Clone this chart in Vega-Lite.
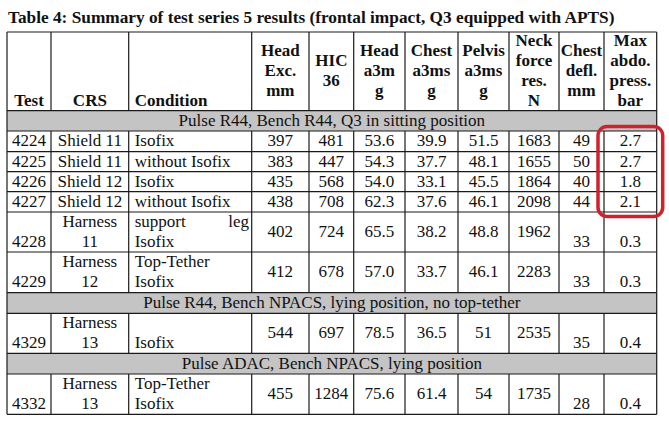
{
  "$schema": "https://vega.github.io/schema/vega-lite/v6.json",
  "width": 669,
  "height": 393,
  "autosize": {"type": "none"},
  "padding": {"left": 0, "top": 30, "right": 0, "bottom": 0},
  "background": "white",
  "config": {"view": {"stroke": null}, "text": {"font": "Liberation Serif", "color": "#111"}},
  "title": {
    "text": "Table 4: Summary of test series 5 results (frontal impact, Q3 equipped with APTS)",
    "anchor": "start",
    "frame": "group",
    "font": "Liberation Serif",
    "fontSize": 17.3,
    "fontWeight": "bold",
    "color": "#111",
    "baseline": "alphabetic",
    "offset": 10,
    "dx": 8,
    "dy": 20
  },
  "datasets": {
    "sections": [
      {"r0": 1, "r1": 2, "span": "all", "label": "Pulse R44, Bench R44, Q3 in sitting position"},
      {"r0": 8, "r1": 9, "span": "all", "label": "Pulse R44, Bench NPACS, lying position, no top-tether"},
      {"r0": 10, "r1": 11, "span": "all", "label": "Pulse ADAC, Bench NPACS, lying position"}
    ],
    "hlines": [{"r": 0}, {"r": 1}, {"r": 2}, {"r": 3}, {"r": 4}, {"r": 5}, {"r": 6}, {"r": 7}, {"r": 8}, {"r": 9}, {"r": 10}, {"r": 11}, {"r": 12}],
    "vlines": [
      {"c": 0, "r0": 0, "r1": 12}, {"c": 11, "r0": 0, "r1": 12},
      {"c": 1, "r0": 0, "r1": 1}, {"c": 1, "r0": 2, "r1": 8}, {"c": 1, "r0": 9, "r1": 10}, {"c": 1, "r0": 11, "r1": 12},
      {"c": 2, "r0": 0, "r1": 1}, {"c": 2, "r0": 2, "r1": 8}, {"c": 2, "r0": 9, "r1": 10}, {"c": 2, "r0": 11, "r1": 12},
      {"c": 3, "r0": 0, "r1": 1}, {"c": 3, "r0": 2, "r1": 8}, {"c": 3, "r0": 9, "r1": 10}, {"c": 3, "r0": 11, "r1": 12},
      {"c": 4, "r0": 0, "r1": 1}, {"c": 4, "r0": 2, "r1": 8}, {"c": 4, "r0": 9, "r1": 10}, {"c": 4, "r0": 11, "r1": 12},
      {"c": 5, "r0": 0, "r1": 1}, {"c": 5, "r0": 2, "r1": 8}, {"c": 5, "r0": 9, "r1": 10}, {"c": 5, "r0": 11, "r1": 12},
      {"c": 6, "r0": 0, "r1": 1}, {"c": 6, "r0": 2, "r1": 8}, {"c": 6, "r0": 9, "r1": 10}, {"c": 6, "r0": 11, "r1": 12},
      {"c": 7, "r0": 0, "r1": 1}, {"c": 7, "r0": 2, "r1": 8}, {"c": 7, "r0": 9, "r1": 10}, {"c": 7, "r0": 11, "r1": 12},
      {"c": 8, "r0": 0, "r1": 1}, {"c": 8, "r0": 2, "r1": 8}, {"c": 8, "r0": 9, "r1": 10}, {"c": 8, "r0": 11, "r1": 12},
      {"c": 9, "r0": 0, "r1": 1}, {"c": 9, "r0": 2, "r1": 8}, {"c": 9, "r0": 9, "r1": 10}, {"c": 9, "r0": 11, "r1": 12},
      {"c": 10, "r0": 0, "r1": 1}, {"c": 10, "r0": 2, "r1": 8}, {"c": 10, "r0": 9, "r1": 10}, {"c": 10, "r0": 11, "r1": 12}
    ],
    "highlight": [{"c0": 10, "c1": 11, "r0": 2, "r1": 6}],
    "cells": [
      {"row": 0, "col": 0, "text": "Test"},
      {"row": 0, "col": 1, "text": "CRS"},
      {"row": 0, "col": 2, "text": "Condition"},
      {"row": 0, "col": 3, "text": ["Head", "Exc.", "mm"]},
      {"row": 0, "col": 4, "text": ["HIC", "36"]},
      {"row": 0, "col": 5, "text": ["Head", "a3m", "g"]},
      {"row": 0, "col": 6, "text": ["Chest", "a3ms", "g"]},
      {"row": 0, "col": 7, "text": ["Pelvis", "a3ms", "g"]},
      {"row": 0, "col": 8, "text": ["Neck", "force", "res.", "N"]},
      {"row": 0, "col": 9, "text": ["Chest", "defl.", "mm"]},
      {"row": 0, "col": 10, "text": ["Max", "abdo.", "press.", "bar"]},

      {"row": 2, "col": 0, "text": "4224"}, {"row": 2, "col": 1, "text": "Shield 11"}, {"row": 2, "col": 2, "text": "Isofix"},
      {"row": 2, "col": 3, "text": "397"}, {"row": 2, "col": 4, "text": "481"}, {"row": 2, "col": 5, "text": "53.6"},
      {"row": 2, "col": 6, "text": "39.9"}, {"row": 2, "col": 7, "text": "51.5"}, {"row": 2, "col": 8, "text": "1683"},
      {"row": 2, "col": 9, "text": "49"}, {"row": 2, "col": 10, "text": "2.7"},

      {"row": 3, "col": 0, "text": "4225"}, {"row": 3, "col": 1, "text": "Shield 11"}, {"row": 3, "col": 2, "text": "without Isofix"},
      {"row": 3, "col": 3, "text": "383"}, {"row": 3, "col": 4, "text": "447"}, {"row": 3, "col": 5, "text": "54.3"},
      {"row": 3, "col": 6, "text": "37.7"}, {"row": 3, "col": 7, "text": "48.1"}, {"row": 3, "col": 8, "text": "1655"},
      {"row": 3, "col": 9, "text": "50"}, {"row": 3, "col": 10, "text": "2.7"},

      {"row": 4, "col": 0, "text": "4226"}, {"row": 4, "col": 1, "text": "Shield 12"}, {"row": 4, "col": 2, "text": "Isofix"},
      {"row": 4, "col": 3, "text": "435"}, {"row": 4, "col": 4, "text": "568"}, {"row": 4, "col": 5, "text": "54.0"},
      {"row": 4, "col": 6, "text": "33.1"}, {"row": 4, "col": 7, "text": "45.5"}, {"row": 4, "col": 8, "text": "1864"},
      {"row": 4, "col": 9, "text": "40"}, {"row": 4, "col": 10, "text": "1.8"},

      {"row": 5, "col": 0, "text": "4227"}, {"row": 5, "col": 1, "text": "Shield 12"}, {"row": 5, "col": 2, "text": "without Isofix"},
      {"row": 5, "col": 3, "text": "438"}, {"row": 5, "col": 4, "text": "708"}, {"row": 5, "col": 5, "text": "62.3"},
      {"row": 5, "col": 6, "text": "37.6"}, {"row": 5, "col": 7, "text": "46.1"}, {"row": 5, "col": 8, "text": "2098"},
      {"row": 5, "col": 9, "text": "44"}, {"row": 5, "col": 10, "text": "2.1"},

      {"row": 6, "col": 0, "text": ["\u00a0", "4228"]}, {"row": 6, "col": 1, "text": ["Harness", "11"]},
      {"row": 6, "col": 2, "text": ["support\u00a0\u00a0\u00a0\u00a0\u00a0\u00a0\u00a0\u00a0\u00a0\u00a0leg", "Isofix"]},
      {"row": 6, "col": 3, "text": "402"}, {"row": 6, "col": 4, "text": "724"}, {"row": 6, "col": 5, "text": "65.5"},
      {"row": 6, "col": 6, "text": "38.2"}, {"row": 6, "col": 7, "text": "48.8"}, {"row": 6, "col": 8, "text": "1962"},
      {"row": 6, "col": 9, "text": ["\u00a0", "33"]}, {"row": 6, "col": 10, "text": ["\u00a0", "0.3"]},

      {"row": 7, "col": 0, "text": ["\u00a0", "4229"]}, {"row": 7, "col": 1, "text": ["Harness", "12"]},
      {"row": 7, "col": 2, "text": ["Top-Tether", "Isofix"]},
      {"row": 7, "col": 3, "text": "412"}, {"row": 7, "col": 4, "text": "678"}, {"row": 7, "col": 5, "text": "57.0"},
      {"row": 7, "col": 6, "text": "33.7"}, {"row": 7, "col": 7, "text": "46.1"}, {"row": 7, "col": 8, "text": "2283"},
      {"row": 7, "col": 9, "text": ["\u00a0", "33"]}, {"row": 7, "col": 10, "text": ["\u00a0", "0.3"]},

      {"row": 9, "col": 0, "text": ["\u00a0", "4329"]}, {"row": 9, "col": 1, "text": ["Harness", "13"]},
      {"row": 9, "col": 2, "text": ["\u00a0", "Isofix"]},
      {"row": 9, "col": 3, "text": "544"}, {"row": 9, "col": 4, "text": "697"}, {"row": 9, "col": 5, "text": "78.5"},
      {"row": 9, "col": 6, "text": "36.5"}, {"row": 9, "col": 7, "text": "51"}, {"row": 9, "col": 8, "text": "2535"},
      {"row": 9, "col": 9, "text": ["\u00a0", "35"]}, {"row": 9, "col": 10, "text": ["\u00a0", "0.4"]},

      {"row": 11, "col": 0, "text": ["\u00a0", "4332"]}, {"row": 11, "col": 1, "text": ["Harness", "13"]},
      {"row": 11, "col": 2, "text": ["Top-Tether", "Isofix"]},
      {"row": 11, "col": 3, "text": "455"}, {"row": 11, "col": 4, "text": "1284"}, {"row": 11, "col": 5, "text": "75.6"},
      {"row": 11, "col": 6, "text": "61.4"}, {"row": 11, "col": 7, "text": "54"}, {"row": 11, "col": 8, "text": "1735"},
      {"row": 11, "col": 9, "text": ["\u00a0", "28"]}, {"row": 11, "col": 10, "text": ["\u00a0", "0.4"]}
    ]
  },
  "layer": [
    {
      "data": {"name": "sections"},
      "mark": {"type": "rect", "fill": "#c4c4c4"},
      "encoding": {
        "x": {"datum": 0, "type": "quantitative", "axis": null, "scale": {"domain": [0,1,2,3,4,5,6,7,8,9,10,11], "range": [7,51,128.7,251.7,309,353.7,405,458,509,559,604,656.7]}},
        "x2": {"datum": 11},
        "y": {"field": "r0", "type": "quantitative", "axis": null, "scale": {"domain": [0,1,2,3,4,5,6,7,8,9,10,11,12], "range": [2,80.7,101,121.7,141.7,161.7,182,222,262.7,283.3,323.3,344,384.3]}},
        "y2": {"field": "r1"}
      }
    },
    {
      "data": {"name": "hlines"},
      "mark": {"type": "rule", "color": "#1a1a1a", "strokeWidth": 1.2},
      "encoding": {
        "x": {"datum": 0, "type": "quantitative", "axis": null, "scale": {"domain": [0,1,2,3,4,5,6,7,8,9,10,11], "range": [7,51,128.7,251.7,309,353.7,405,458,509,559,604,656.7]}},
        "x2": {"datum": 11},
        "y": {"field": "r", "type": "quantitative", "axis": null, "scale": {"domain": [0,1,2,3,4,5,6,7,8,9,10,11,12], "range": [2,80.7,101,121.7,141.7,161.7,182,222,262.7,283.3,323.3,344,384.3]}}
      }
    },
    {
      "data": {"name": "vlines"},
      "mark": {"type": "rule", "color": "#1a1a1a", "strokeWidth": 1.2},
      "encoding": {
        "x": {"field": "c", "type": "quantitative", "axis": null, "scale": {"domain": [0,1,2,3,4,5,6,7,8,9,10,11], "range": [7,51,128.7,251.7,309,353.7,405,458,509,559,604,656.7]}},
        "y": {"field": "r0", "type": "quantitative", "axis": null, "scale": {"domain": [0,1,2,3,4,5,6,7,8,9,10,11,12], "range": [2,80.7,101,121.7,141.7,161.7,182,222,262.7,283.3,323.3,344,384.3]}},
        "y2": {"field": "r1"}
      }
    },
    {
      "data": {"name": "highlight"},
      "mark": {"type": "rect", "filled": false, "color": "#d0222b", "strokeWidth": 3.5, "cornerRadius": 9, "xOffset": -6, "x2Offset": 6, "yOffset": -4.5, "y2Offset": 4.5},
      "encoding": {
        "x": {"field": "c0", "type": "quantitative", "axis": null, "scale": {"domain": [0,1,2,3,4,5,6,7,8,9,10,11], "range": [7,51,128.7,251.7,309,353.7,405,458,509,559,604,656.7]}},
        "x2": {"field": "c1"},
        "y": {"field": "r0", "type": "quantitative", "axis": null, "scale": {"domain": [0,1,2,3,4,5,6,7,8,9,10,11,12], "range": [2,80.7,101,121.7,141.7,161.7,182,222,262.7,283.3,323.3,344,384.3]}},
        "y2": {"field": "r1"}
      }
    },
    {
      "data": {"name": "sections"},
      "mark": {"type": "text", "fontSize": 17, "baseline": "middle", "align": "center"},
      "encoding": {
        "x": {"field": "span", "type": "nominal", "axis": null, "scale": {"domain": ["all"], "range": [7, 656.7], "paddingInner": 0, "paddingOuter": 0}},
        "y": {"field": "r0", "type": "quantitative", "axis": null, "scale": {"domain": [0,1,2,3,4,5,6,7,8,9,10,11], "range": [41.35,90.85,111.35,131.7,151.7,171.85,202,242.35,273,303.3,333.65,364.15]}},
        "text": {"field": "label", "type": "nominal"}
      }
    },
    {
      "data": {"name": "cells"},
      "transform": [{"filter": "datum.row == 0 && datum.col != 2 && !isArray(datum.text)"}],
      "mark": {"type": "text", "fontSize": 17, "fontWeight": "bold", "lineHeight": 20, "baseline": "middle", "align": "center", "dy": 30},
      "encoding": {
        "x": {"field": "col", "type": "quantitative", "axis": null, "scale": {"domain": [0,1,2,3,4,5,6,7,8,9,10], "range": [29,89.85,134.7,280.35,331.35,379.35,431.5,483.5,534,581.5,630.35]}},
        "y": {"field": "row", "type": "quantitative", "axis": null, "scale": {"domain": [0,1,2,3,4,5,6,7,8,9,10,11], "range": [41.35,90.85,111.35,131.7,151.7,171.85,202,242.35,273,303.3,333.65,364.15]}},
        "text": {"field": "text", "type": "nominal"}
      }
    },
    {
      "data": {"name": "cells"},
      "transform": [{"filter": "datum.row == 0 && datum.col == 2"}],
      "mark": {"type": "text", "fontSize": 17, "fontWeight": "bold", "lineHeight": 20, "baseline": "middle", "align": "left", "dy": 30},
      "encoding": {
        "x": {"field": "col", "type": "quantitative", "axis": null, "scale": {"domain": [0,1,2,3,4,5,6,7,8,9,10], "range": [29,89.85,134.7,280.35,331.35,379.35,431.5,483.5,534,581.5,630.35]}},
        "y": {"field": "row", "type": "quantitative", "axis": null, "scale": {"domain": [0,1,2,3,4,5,6,7,8,9,10,11], "range": [41.35,90.85,111.35,131.7,151.7,171.85,202,242.35,273,303.3,333.65,364.15]}},
        "text": {"field": "text", "type": "nominal"}
      }
    },
    {
      "data": {"name": "cells"},
      "transform": [{"filter": "datum.row == 0 && isArray(datum.text) && length(datum.text) == 2"}],
      "mark": {"type": "text", "fontSize": 17, "fontWeight": "bold", "lineHeight": 20, "baseline": "middle", "align": "center", "dy": -10},
      "encoding": {
        "x": {"field": "col", "type": "quantitative", "axis": null, "scale": {"domain": [0,1,2,3,4,5,6,7,8,9,10], "range": [29,89.85,134.7,280.35,331.35,379.35,431.5,483.5,534,581.5,630.35]}},
        "y": {"field": "row", "type": "quantitative", "axis": null, "scale": {"domain": [0,1,2,3,4,5,6,7,8,9,10,11], "range": [41.35,90.85,111.35,131.7,151.7,171.85,202,242.35,273,303.3,333.65,364.15]}},
        "text": {"field": "text", "type": "nominal"}
      }
    },
    {
      "data": {"name": "cells"},
      "transform": [{"filter": "datum.row == 0 && isArray(datum.text) && length(datum.text) == 3"}],
      "mark": {"type": "text", "fontSize": 17, "fontWeight": "bold", "lineHeight": 20, "baseline": "middle", "align": "center", "dy": -20},
      "encoding": {
        "x": {"field": "col", "type": "quantitative", "axis": null, "scale": {"domain": [0,1,2,3,4,5,6,7,8,9,10], "range": [29,89.85,134.7,280.35,331.35,379.35,431.5,483.5,534,581.5,630.35]}},
        "y": {"field": "row", "type": "quantitative", "axis": null, "scale": {"domain": [0,1,2,3,4,5,6,7,8,9,10,11], "range": [41.35,90.85,111.35,131.7,151.7,171.85,202,242.35,273,303.3,333.65,364.15]}},
        "text": {"field": "text", "type": "nominal"}
      }
    },
    {
      "data": {"name": "cells"},
      "transform": [{"filter": "datum.row == 0 && isArray(datum.text) && length(datum.text) == 4"}],
      "mark": {"type": "text", "fontSize": 17, "fontWeight": "bold", "lineHeight": 20, "baseline": "middle", "align": "center", "dy": -30},
      "encoding": {
        "x": {"field": "col", "type": "quantitative", "axis": null, "scale": {"domain": [0,1,2,3,4,5,6,7,8,9,10], "range": [29,89.85,134.7,280.35,331.35,379.35,431.5,483.5,534,581.5,630.35]}},
        "y": {"field": "row", "type": "quantitative", "axis": null, "scale": {"domain": [0,1,2,3,4,5,6,7,8,9,10,11], "range": [41.35,90.85,111.35,131.7,151.7,171.85,202,242.35,273,303.3,333.65,364.15]}},
        "text": {"field": "text", "type": "nominal"}
      }
    },
    {
      "data": {"name": "cells"},
      "transform": [{"filter": "datum.row > 0 && datum.col != 2 && !isArray(datum.text)"}],
      "mark": {"type": "text", "fontSize": 17, "lineHeight": 20, "baseline": "middle", "align": "center"},
      "encoding": {
        "x": {"field": "col", "type": "quantitative", "axis": null, "scale": {"domain": [0,1,2,3,4,5,6,7,8,9,10], "range": [29,89.85,134.7,280.35,331.35,379.35,431.5,483.5,534,581.5,630.35]}},
        "y": {"field": "row", "type": "quantitative", "axis": null, "scale": {"domain": [0,1,2,3,4,5,6,7,8,9,10,11], "range": [41.35,90.85,111.35,131.7,151.7,171.85,202,242.35,273,303.3,333.65,364.15]}},
        "text": {"field": "text", "type": "nominal"}
      }
    },
    {
      "data": {"name": "cells"},
      "transform": [{"filter": "datum.row > 0 && datum.col != 2 && isArray(datum.text)"}],
      "mark": {"type": "text", "fontSize": 17, "lineHeight": 20, "baseline": "middle", "align": "center", "dy": -10},
      "encoding": {
        "x": {"field": "col", "type": "quantitative", "axis": null, "scale": {"domain": [0,1,2,3,4,5,6,7,8,9,10], "range": [29,89.85,134.7,280.35,331.35,379.35,431.5,483.5,534,581.5,630.35]}},
        "y": {"field": "row", "type": "quantitative", "axis": null, "scale": {"domain": [0,1,2,3,4,5,6,7,8,9,10,11], "range": [41.35,90.85,111.35,131.7,151.7,171.85,202,242.35,273,303.3,333.65,364.15]}},
        "text": {"field": "text", "type": "nominal"}
      }
    },
    {
      "data": {"name": "cells"},
      "transform": [{"filter": "datum.row > 0 && datum.col == 2 && !isArray(datum.text)"}],
      "mark": {"type": "text", "fontSize": 17, "lineHeight": 20, "baseline": "middle", "align": "left"},
      "encoding": {
        "x": {"field": "col", "type": "quantitative", "axis": null, "scale": {"domain": [0,1,2,3,4,5,6,7,8,9,10], "range": [29,89.85,134.7,280.35,331.35,379.35,431.5,483.5,534,581.5,630.35]}},
        "y": {"field": "row", "type": "quantitative", "axis": null, "scale": {"domain": [0,1,2,3,4,5,6,7,8,9,10,11], "range": [41.35,90.85,111.35,131.7,151.7,171.85,202,242.35,273,303.3,333.65,364.15]}},
        "text": {"field": "text", "type": "nominal"}
      }
    },
    {
      "data": {"name": "cells"},
      "transform": [{"filter": "datum.row > 0 && datum.col == 2 && isArray(datum.text)"}],
      "mark": {"type": "text", "fontSize": 17, "lineHeight": 20, "baseline": "middle", "align": "left", "dy": -10},
      "encoding": {
        "x": {"field": "col", "type": "quantitative", "axis": null, "scale": {"domain": [0,1,2,3,4,5,6,7,8,9,10], "range": [29,89.85,134.7,280.35,331.35,379.35,431.5,483.5,534,581.5,630.35]}},
        "y": {"field": "row", "type": "quantitative", "axis": null, "scale": {"domain": [0,1,2,3,4,5,6,7,8,9,10,11], "range": [41.35,90.85,111.35,131.7,151.7,171.85,202,242.35,273,303.3,333.65,364.15]}},
        "text": {"field": "text", "type": "nominal"}
      }
    }
  ],
  "resolve": {"scale": {"x": "independent", "y": "independent"}}
}
